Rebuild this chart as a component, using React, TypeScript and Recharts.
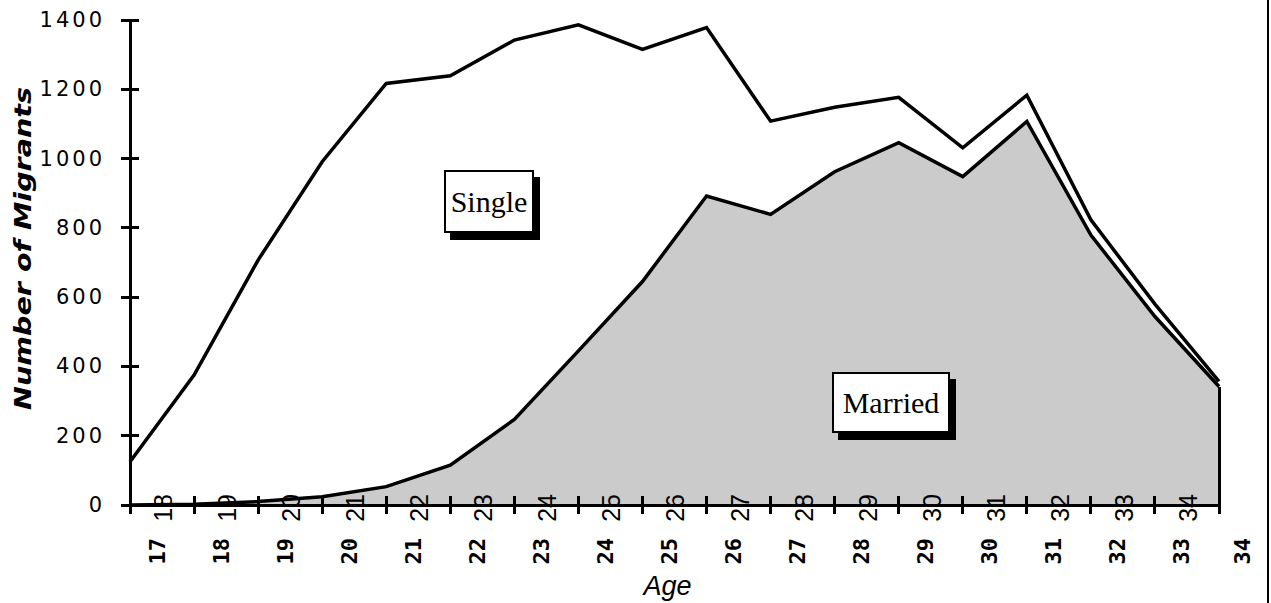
import React from 'react';
import { ComposedChart, Area, Line, XAxis, YAxis, ReferenceLine } from 'recharts';

// Ages along the x axis
const ages = [17, 18, 19, 20, 21, 22, 23, 24, 25, 26, 27, 28, 29, 30, 31, 32, 33, 34];

// Number of migrants by marital status
const single = [125, 375, 707, 991, 1217, 1239, 1342, 1386, 1315, 1378, 1108, 1148, 1177, 1031, 1183, 823, 580, 357];
const married = [0, 2, 10, 24, 53, 115, 247, 445, 645, 892, 839, 962, 1046, 948, 1107, 779, 544, 342];

const yTicks = [0, 200, 400, 600, 800, 1000, 1200, 1400];

const chartData = ages.map((age, i) => ({ age, Single: single[i], Married: married[i] }));

const AgeTick = (props: any) => {
  const { x, y, payload, index } = props;
  const age = Number(payload.value);
  const last = index === ages.length - 1;
  return (
    <g>
      <line x1={x} x2={x} y1={y - 9} y2={y + 9} stroke="#000" strokeWidth={3} shapeRendering="crispEdges" />
      {!last && (
        <text
          transform={`translate(${x + 33},${y - 11}) rotate(-90)`}
          textAnchor="end"
          dominantBaseline="central"
          fontFamily="'Liberation Sans', Arial, sans-serif"
          fontSize={25}
          fill="#000"
        >
          {age + 1}
        </text>
      )}
      <text
        transform={`translate(${x + (last ? 23 : 27)},${y + 33}) rotate(-90)`}
        textAnchor="end"
        dominantBaseline="central"
        fontFamily="'DejaVu Sans Mono', monospace"
        fontWeight="bold"
        fontSize={22}
        fill="#000"
      >
        {age}
      </text>
    </g>
  );
};

const CountTick = (props: any) => {
  const { x, y, payload } = props;
  return (
    <g>
      <line x1={x - 9} x2={x + 9} y1={y} y2={y} stroke="#000" strokeWidth={3} shapeRendering="crispEdges" />
      <text
        x={x - 25}
        y={y}
        textAnchor="end"
        dominantBaseline="central"
        fontFamily="'DejaVu Sans', sans-serif"
        fontSize={21}
        letterSpacing={3}
        fill="#000"
      >
        {payload.value}
      </text>
    </g>
  );
};

const boxStyle: React.CSSProperties = {
  position: 'absolute',
  boxSizing: 'border-box',
  border: '2px solid #000',
  background: '#fff',
  boxShadow: '6px 7px 0 #000',
  fontFamily: "'Liberation Serif', 'Times New Roman', serif",
  fontSize: 30,
  color: '#000',
  display: 'flex',
  alignItems: 'center',
  justifyContent: 'center',
};

const App: React.FC = () => {
  return (
    <div style={{ position: 'absolute', left: 0, top: 0, width: 1271, height: 603, background: '#fff' }}>
      <ComposedChart
        width={1271}
        height={603}
        data={chartData}
        margin={{ top: 20, right: 52, bottom: 0, left: 0 }}
      >
        <Area
          type="linear"
          dataKey="Married"
          fill="#cbcbcb"
          fillOpacity={1}
          stroke="#000"
          strokeWidth={3.5}
          isAnimationActive={false}
        />
        <Line
          type="linear"
          dataKey="Single"
          stroke="#000"
          strokeWidth={3.5}
          dot={false}
          isAnimationActive={false}
        />
        <ReferenceLine
          segment={[
            { x: ages[ages.length - 1], y: 0 },
            { x: ages[ages.length - 1], y: married[married.length - 1] },
          ]}
          stroke="#000"
          strokeWidth={3}
          shapeRendering="crispEdges"
        />
        <XAxis
          dataKey="age"
          interval={0}
          height={98}
          tickSize={0}
          tickMargin={0}
          tick={<AgeTick />}
          axisLine={{ stroke: '#000', strokeWidth: 3, shapeRendering: 'crispEdges' }}
          tickLine={false}
          label={{
            content: (p: any) => {
              const vb = p.viewBox || {};
              return (
                <text
                  x={vb.x + vb.width / 2 - 7}
                  y={vb.y + 90}
                  textAnchor="middle"
                  fontFamily="'Liberation Sans', Arial, sans-serif"
                  fontStyle="italic"
                  fontSize={27}
                  fill="#000"
                >
                  Age
                </text>
              );
            },
          }}
        />
        <YAxis
          width={130}
          domain={[0, 1400]}
          ticks={yTicks}
          tickSize={0}
          tickMargin={0}
          tick={<CountTick />}
          axisLine={{ stroke: '#000', strokeWidth: 3, shapeRendering: 'crispEdges' }}
          tickLine={false}
          label={{
            content: (p: any) => {
              const vb = p.viewBox || {};
              const cy = vb.y + vb.height / 2 - 14;
              return (
                <text
                  transform={`translate(23,${cy}) rotate(-90)`}
                  textAnchor="middle"
                  dominantBaseline="central"
                  fontFamily="'DejaVu Sans', sans-serif"
                  fontWeight="bold"
                  fontStyle="italic"
                  fontSize={23}
                  textLength={323}
                  lengthAdjust="spacingAndGlyphs"
                  fill="#000"
                >
                  Number of Migrants
                </text>
              );
            },
          }}
        />
      </ComposedChart>
      <div style={{ ...boxStyle, left: 444, top: 170, width: 90, height: 63 }}>Single</div>
      <div style={{ ...boxStyle, left: 832, top: 372, width: 118, height: 61 }}>Married</div>
      <div style={{ position: 'absolute', left: 1267, top: 0, width: 2, height: 603, background: '#000' }} />
    </div>
  );
};

export default App;
